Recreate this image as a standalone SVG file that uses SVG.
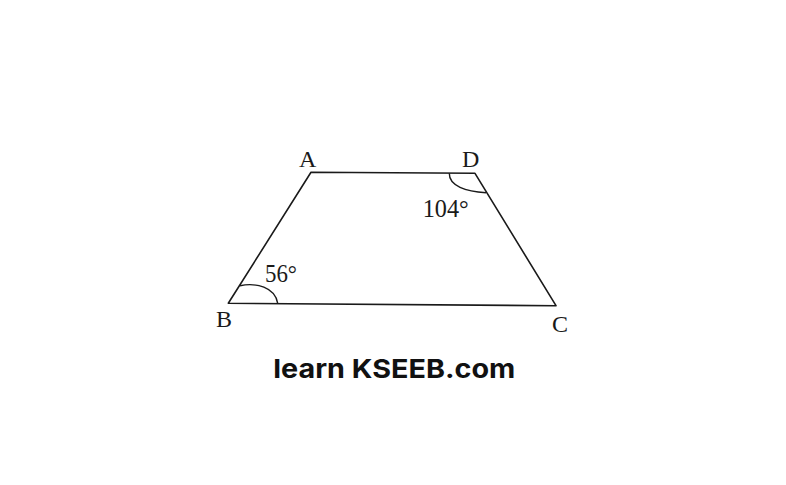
<svg xmlns="http://www.w3.org/2000/svg" width="786" height="485" viewBox="0 0 786 485">
<style>
.edge{fill:none;stroke:#1a1a1a;stroke-width:1.6;stroke-linejoin:round}
.arc{fill:none;stroke:#1a1a1a;stroke-width:1.4}
.lbl{font-family:"Liberation Serif","Times New Roman",serif;fill:#1a1a1a}
.brand{font-family:Inter,"Liberation Sans",sans-serif;font-weight:700;fill:#111}
</style>
<rect width="786" height="485" fill="#fff"/>
<g id="shape">
<path class="edge" d="M311,172.3 L475,173.3 L556,305.7 L228.3,303.3 Z"/>
<path class="arc" d="M240,285.7 C256,282.5 275,287 277.7,303.3"/>
<path class="arc" d="M449.3,173.3 C449,186 466,191.5 486,192.7"/>
</g>
<g id="labels">
<text class="lbl" x="299" y="166.7" font-size="24">A</text>
<text class="lbl" x="462" y="166.7" font-size="24">D</text>
<text class="lbl" x="216" y="326.7" font-size="24">B</text>
<text class="lbl" x="552" y="331.7" font-size="24">C</text>
<text class="lbl" x="265" y="281.7" font-size="25" textLength="32" lengthAdjust="spacingAndGlyphs">56°</text>
<text class="lbl" x="422.7" y="217.3" font-size="26" textLength="46" lengthAdjust="spacingAndGlyphs">104°</text>
</g>
<g id="brand">
<text class="brand" x="273.3" y="378.3" font-size="26" textLength="242" lengthAdjust="spacingAndGlyphs">learn KSEEB.com</text>
</g>
</svg>
